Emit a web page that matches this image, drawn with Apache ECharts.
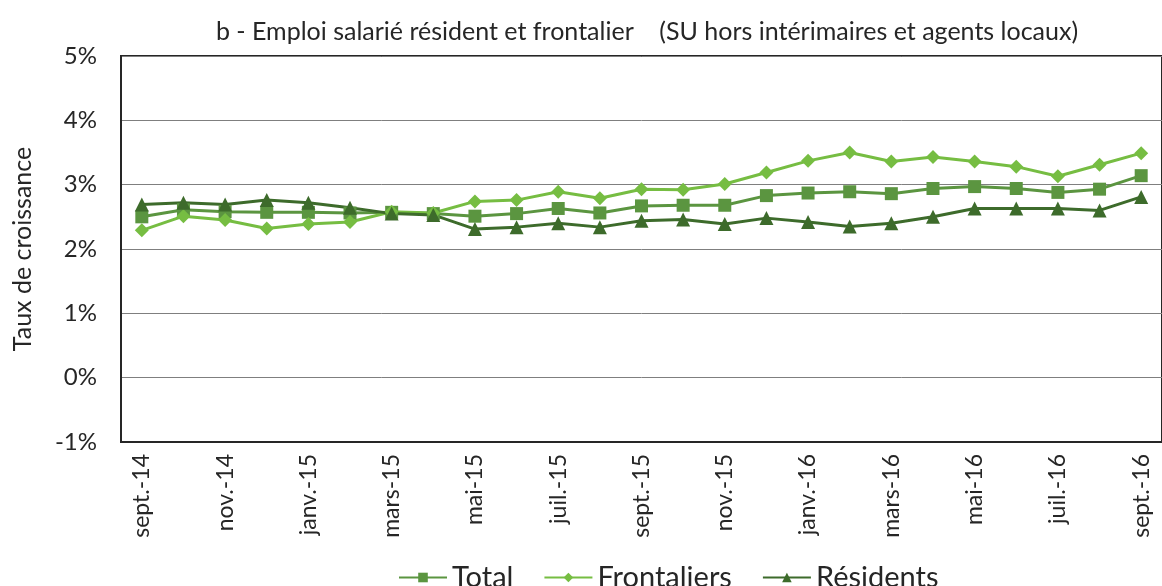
<!DOCTYPE html>
<html><head><meta charset="utf-8">
<script src="https://cdn.jsdelivr.net/npm/echarts@6/dist/echarts.min.js"></script>
<style>html,body{margin:0;padding:0;background:#fff}#c{width:1162px;height:586px}</style>
</head><body><div id="c"></div>
<script>
var categories = ['sept.-14','oct.-14','nov.-14','déc.-14','janv.-15','févr.-15','mars-15','avr.-15','mai-15','juin-15','juil.-15','août-15','sept.-15','oct.-15','nov.-15','déc.-15','janv.-16','févr.-16','mars-16','avr.-16','mai-16','juin-16','juil.-16','août-16','sept.-16'];
var total = [2.50,2.61,2.58,2.57,2.57,2.56,2.57,2.55,2.51,2.55,2.63,2.56,2.67,2.68,2.68,2.83,2.87,2.89,2.86,2.94,2.97,2.94,2.88,2.93,3.14];
var frontaliers = [2.29,2.51,2.45,2.32,2.39,2.42,2.58,2.56,2.74,2.76,2.89,2.79,2.93,2.92,3.01,3.19,3.37,3.50,3.36,3.43,3.36,3.28,3.13,3.31,3.49];
var residents = [2.69,2.72,2.69,2.76,2.72,2.64,2.55,2.53,2.31,2.34,2.40,2.34,2.44,2.46,2.39,2.48,2.42,2.35,2.40,2.50,2.63,2.63,2.63,2.60,2.81];
var yTicks = [-1,0,1,2,3,4,5];

var FONT = 'Lato';
var chart = echarts.init(document.getElementById('c'));
chart.setOption({
  animation:false,
  backgroundColor:'#fff',
  title:{text:'b - Emploi salarié résident et frontalier    (SU hors intérimaires et agents locaux)',left:642,textAlign:'center',top:14,textStyle:{fontFamily:FONT,fontWeight:'normal',fontSize:25,color:'#262626'}},
  grid:{left:121,right:-9,top:56,bottom:144,show:true,borderColor:'#262626',borderWidth:2},
  legend:{top:558,left:393,itemWidth:48,itemHeight:12,itemGap:30,textStyle:{fontFamily:FONT,fontSize:29,color:'#262626'},data:['Total','Frontaliers','Résidents']},
  xAxis:{type:'category',data:categories,boundaryGap:true,
    axisLine:{onZero:false,lineStyle:{color:'#262626',width:2}},axisTick:{show:false},
    axisLabel:{interval:1,rotate:90,fontFamily:FONT,fontSize:23,color:'#262626',margin:12}},
  yAxis:{type:'value',min:yTicks[0],max:yTicks[yTicks.length-1],interval:1,
    name:'Taux de croissance',nameLocation:'middle',nameGap:86,nameTextStyle:{fontFamily:FONT,fontSize:25,color:'#262626'},
    axisLine:{show:true,lineStyle:{color:'#262626',width:2}},axisTick:{show:false},
    splitLine:{lineStyle:{color:'#7f7f7f',width:1}},
    axisLabel:{formatter:'{value}%',fontFamily:FONT,fontSize:24,color:'#262626',margin:24}},
  series:[
    {name:'Total',type:'line',data:total,symbol:'rect',symbolSize:13,color:'#5B9540',lineStyle:{width:3,color:'#5B9540'},itemStyle:{color:'#5B9540'}},
    {name:'Frontaliers',type:'line',data:frontaliers,symbol:'diamond',symbolSize:14,color:'#76BD42',lineStyle:{width:3,color:'#76BD42'},itemStyle:{color:'#76BD42'}},
    {name:'Résidents',type:'line',data:residents,symbol:'triangle',symbolSize:14,color:'#3D6B2B',lineStyle:{width:3,color:'#3D6B2B'},itemStyle:{color:'#3D6B2B'}}
  ]
});
</script></body></html>
